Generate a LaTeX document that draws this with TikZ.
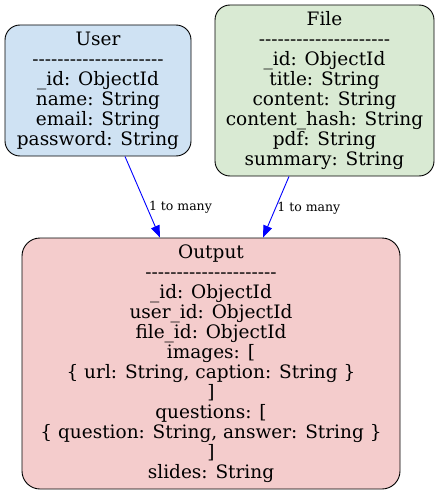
\documentclass[tikz,border=0pt]{standalone}
\usepackage{fontspec}
\setmainfont{DejaVu Serif}
\usetikzlibrary{arrows.meta,calc}
\definecolor{userfill}{HTML}{CFE2F3}
\definecolor{filefill}{HTML}{D9EAD3}
\definecolor{outfill}{HTML}{F4CCCC}
\newcommand\hy{-\kern0pt}
\newcommand\dashrule{\hy\hy\hy\hy\hy\hy\hy\hy\hy\hy\hy\hy\hy\hy\hy\hy\hy\hy\hy\hy\hy}
\tikzset{
  entity/.style={draw=black, line width=0.9pt, rounded corners=15pt, align=center, inner sep=0pt,
    font={\fontsize{18.5}{20}\selectfont}},
  rel/.style={draw=blue, line width=0.9pt, -{Triangle[length=12pt,width=9pt]}},
  rellabel/.style={font={\fontsize{12.5}{14}\selectfont}, anchor=west, inner sep=1.5pt}
}
\begin{document}
\begin{tikzpicture}[x=1pt,y=-1pt]
\useasboundingbox (0,0) rectangle (440,495);
\node[entity, fill=userfill, minimum width=186pt, minimum height=131pt] (user) at (98,90.5)
  {User\\\dashrule\\\_id: ObjectId\\name: String\\email: String\\password: String};
\node[entity, fill=filefill, minimum width=219pt, minimum height=171pt] (file) at (324.5,90.5)
  {File\\\dashrule\\\_id: ObjectId\\title: String\\content: String\\content\_hash: String\\pdf: String\\summary: String};
\node[entity, fill=outfill, rounded corners=18pt, minimum width=378pt, minimum height=251pt] (output) at (211,363.5)
  {Output\\\dashrule\\\_id: ObjectId\\user\_id: ObjectId\\file\_id: ObjectId\\images: [\\\{ url: String, caption: String \}\\]\\questions: [\\\{ question: String, answer: String \}\\]\\slides: String};
\coordinate (uout) at ($(user.south)+(27,0)$);
\coordinate (uin) at ($(output.north)+(-51,0)$);
\coordinate (fout) at ($(file.south)+(-35.5,0)$);
\coordinate (fin) at ($(output.north)+(52,0)$);
\draw[rel] (uout) -- node[rellabel, pos=0.63] (ul) {1 to many} (uin);
\draw[rel] (fout) -- node[rellabel, pos=0.52] (fl) {1 to many} (fin);
\end{tikzpicture}
\end{document}
